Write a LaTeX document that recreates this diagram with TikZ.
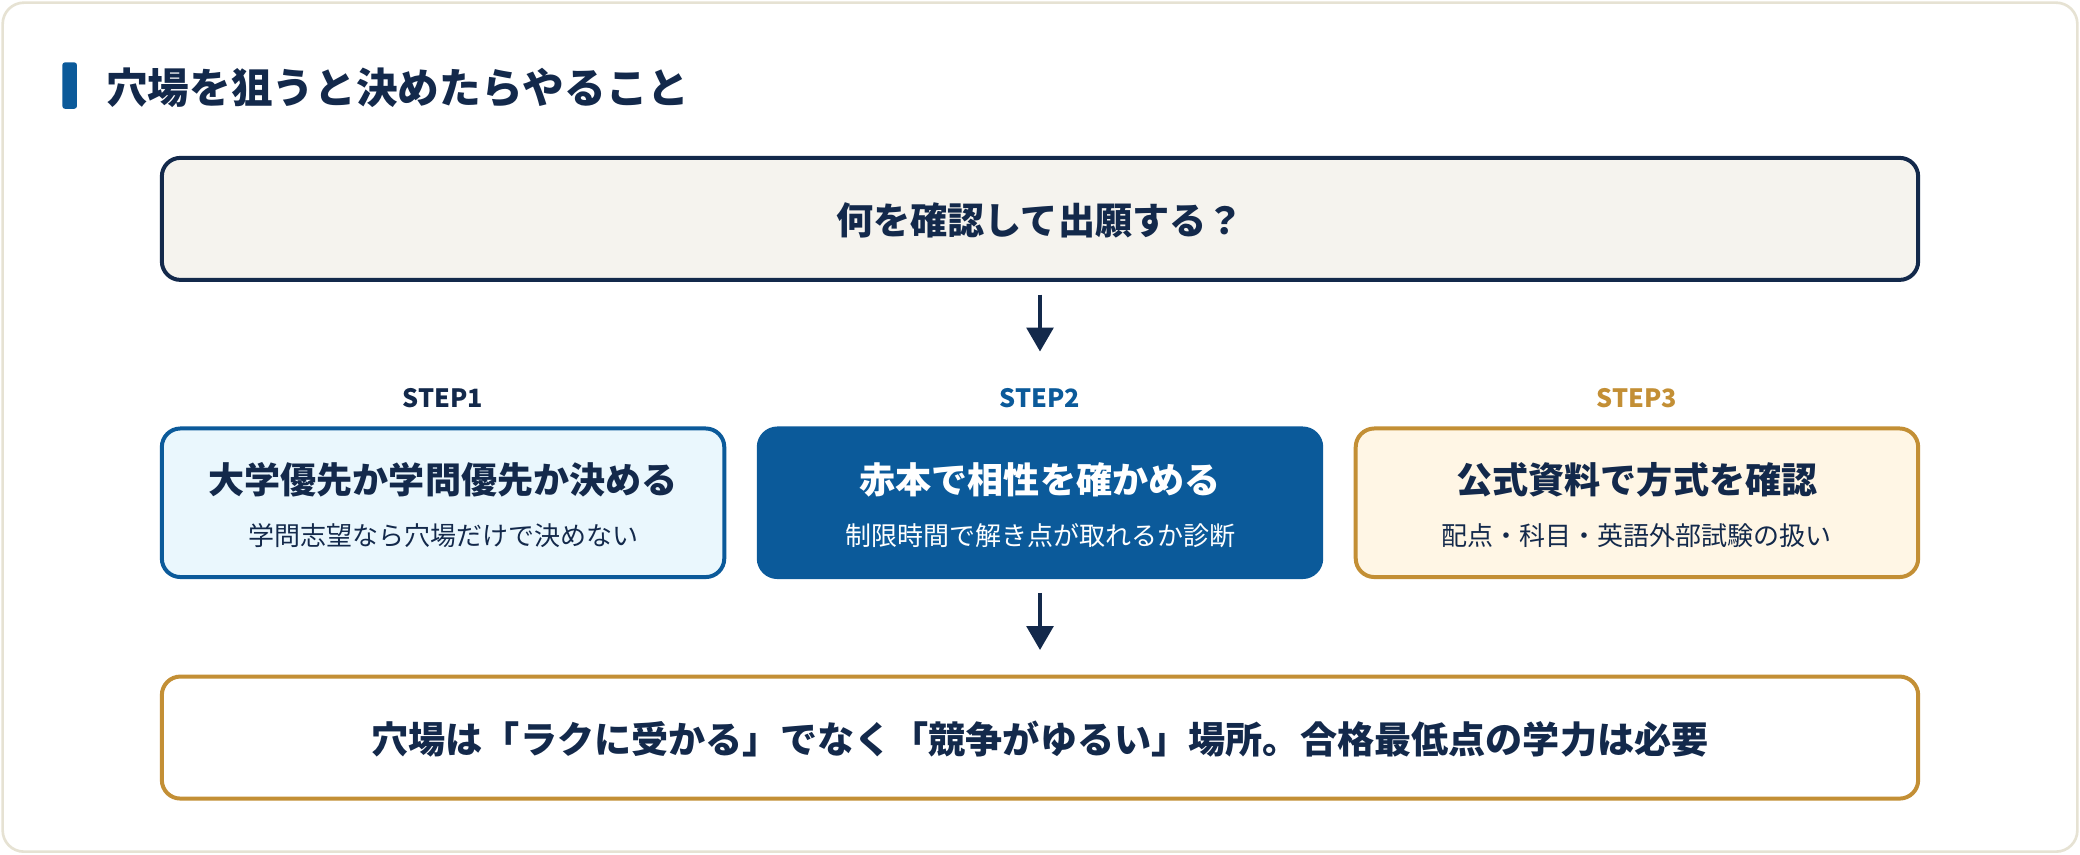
\documentclass[tikz,border=0pt]{standalone}
\usepackage{fontspec}
\setmainfont{Noto Sans CJK JP}
\usetikzlibrary{arrows.meta}
\definecolor{navy}{HTML}{13294B}
\definecolor{blu}{HTML}{0B5A9A}
\definecolor{gold}{HTML}{C38F35}
\definecolor{edge}{HTML}{E6E2D3}
\begin{document}
\begin{tikzpicture}[x=0.5pt,y=-0.5pt,
  box/.style={rounded corners=7pt,line width=1.5pt},
  ttl/.style={font=\bfseries\fontsize{13.6}{16}\selectfont},
  sub/.style={font=\fontsize{9.8}{12}\selectfont},
  steplbl/.style={font=\bfseries\fontsize{9.5}{12}\selectfont},
  arr/.style={draw=navy,line width=1.5pt,-{Triangle[length=9pt,width=10pt]}}]
\useasboundingbox (0,0) rectangle (1568,644);
\draw[edge,fill=white,line width=1pt,rounded corners=8pt] (2,2) rectangle (1566,642);
\fill[blu,rounded corners=1pt] (47,47) rectangle (58,82);
\node[anchor=west,text=navy,font=\bfseries\fontsize{15.7}{18}\selectfont] (title) at (73,66) {穴場を狙うと決めたらやること};
\draw[box,draw=navy,fill={rgb,255:red,245;green,243;blue,238}] (122,119) rectangle (1446,211);
\node[text=navy,font=\bfseries\fontsize{14}{16}\selectfont] (q) at (784,166) {何を確認して出願する？};
\coordinate (a1s) at (784,222); \coordinate (a1e) at (784,265);
\draw[arr] (a1s) -- (a1e);
\node[steplbl,text=navy] (s1) at (334,300) {STEP1};
\node[steplbl,text=blu] (s2) at (784,300) {STEP2};
\node[steplbl,text=gold] (s3) at (1234,300) {STEP3};
\draw[box,draw=blu,fill={rgb,255:red,234;green,247;blue,253}] (122,323) rectangle (546,435);
\draw[box,draw=blu,fill=blu] (572,323) rectangle (996,435);
\draw[box,draw=gold,fill={rgb,255:red,255;green,246;blue,229}] (1022,323) rectangle (1446,435);
\node[ttl,text=navy] (b1) at (334,362) {大学優先か学問優先か決める};
\node[sub,text=navy] (b1s) at (334,404) {学問志望なら穴場だけで決めない};
\node[ttl,text=white] (b2) at (784,362) {赤本で相性を確かめる};
\node[sub,text=white] (b2s) at (784,404) {制限時間で解き点が取れるか診断};
\node[ttl,text=navy] (b3) at (1234,362) {公式資料で方式を確認};
\node[sub,text=navy] (b3s) at (1234,404) {配点・科目・英語外部試験の扱い};
\coordinate (a2s) at (784,447); \coordinate (a2e) at (784,490);
\draw[arr] (a2s) -- (a2e);
\draw[box,draw=gold,fill=white] (122,510) rectangle (1446,602);
\node[text=navy,font=\bfseries\fontsize{14}{16}\selectfont] (bot) at (784,557) {穴場は「ラクに受かる」でなく「競争がゆるい」場所。合格最低点の学力は必要};
\end{tikzpicture}
\end{document}
